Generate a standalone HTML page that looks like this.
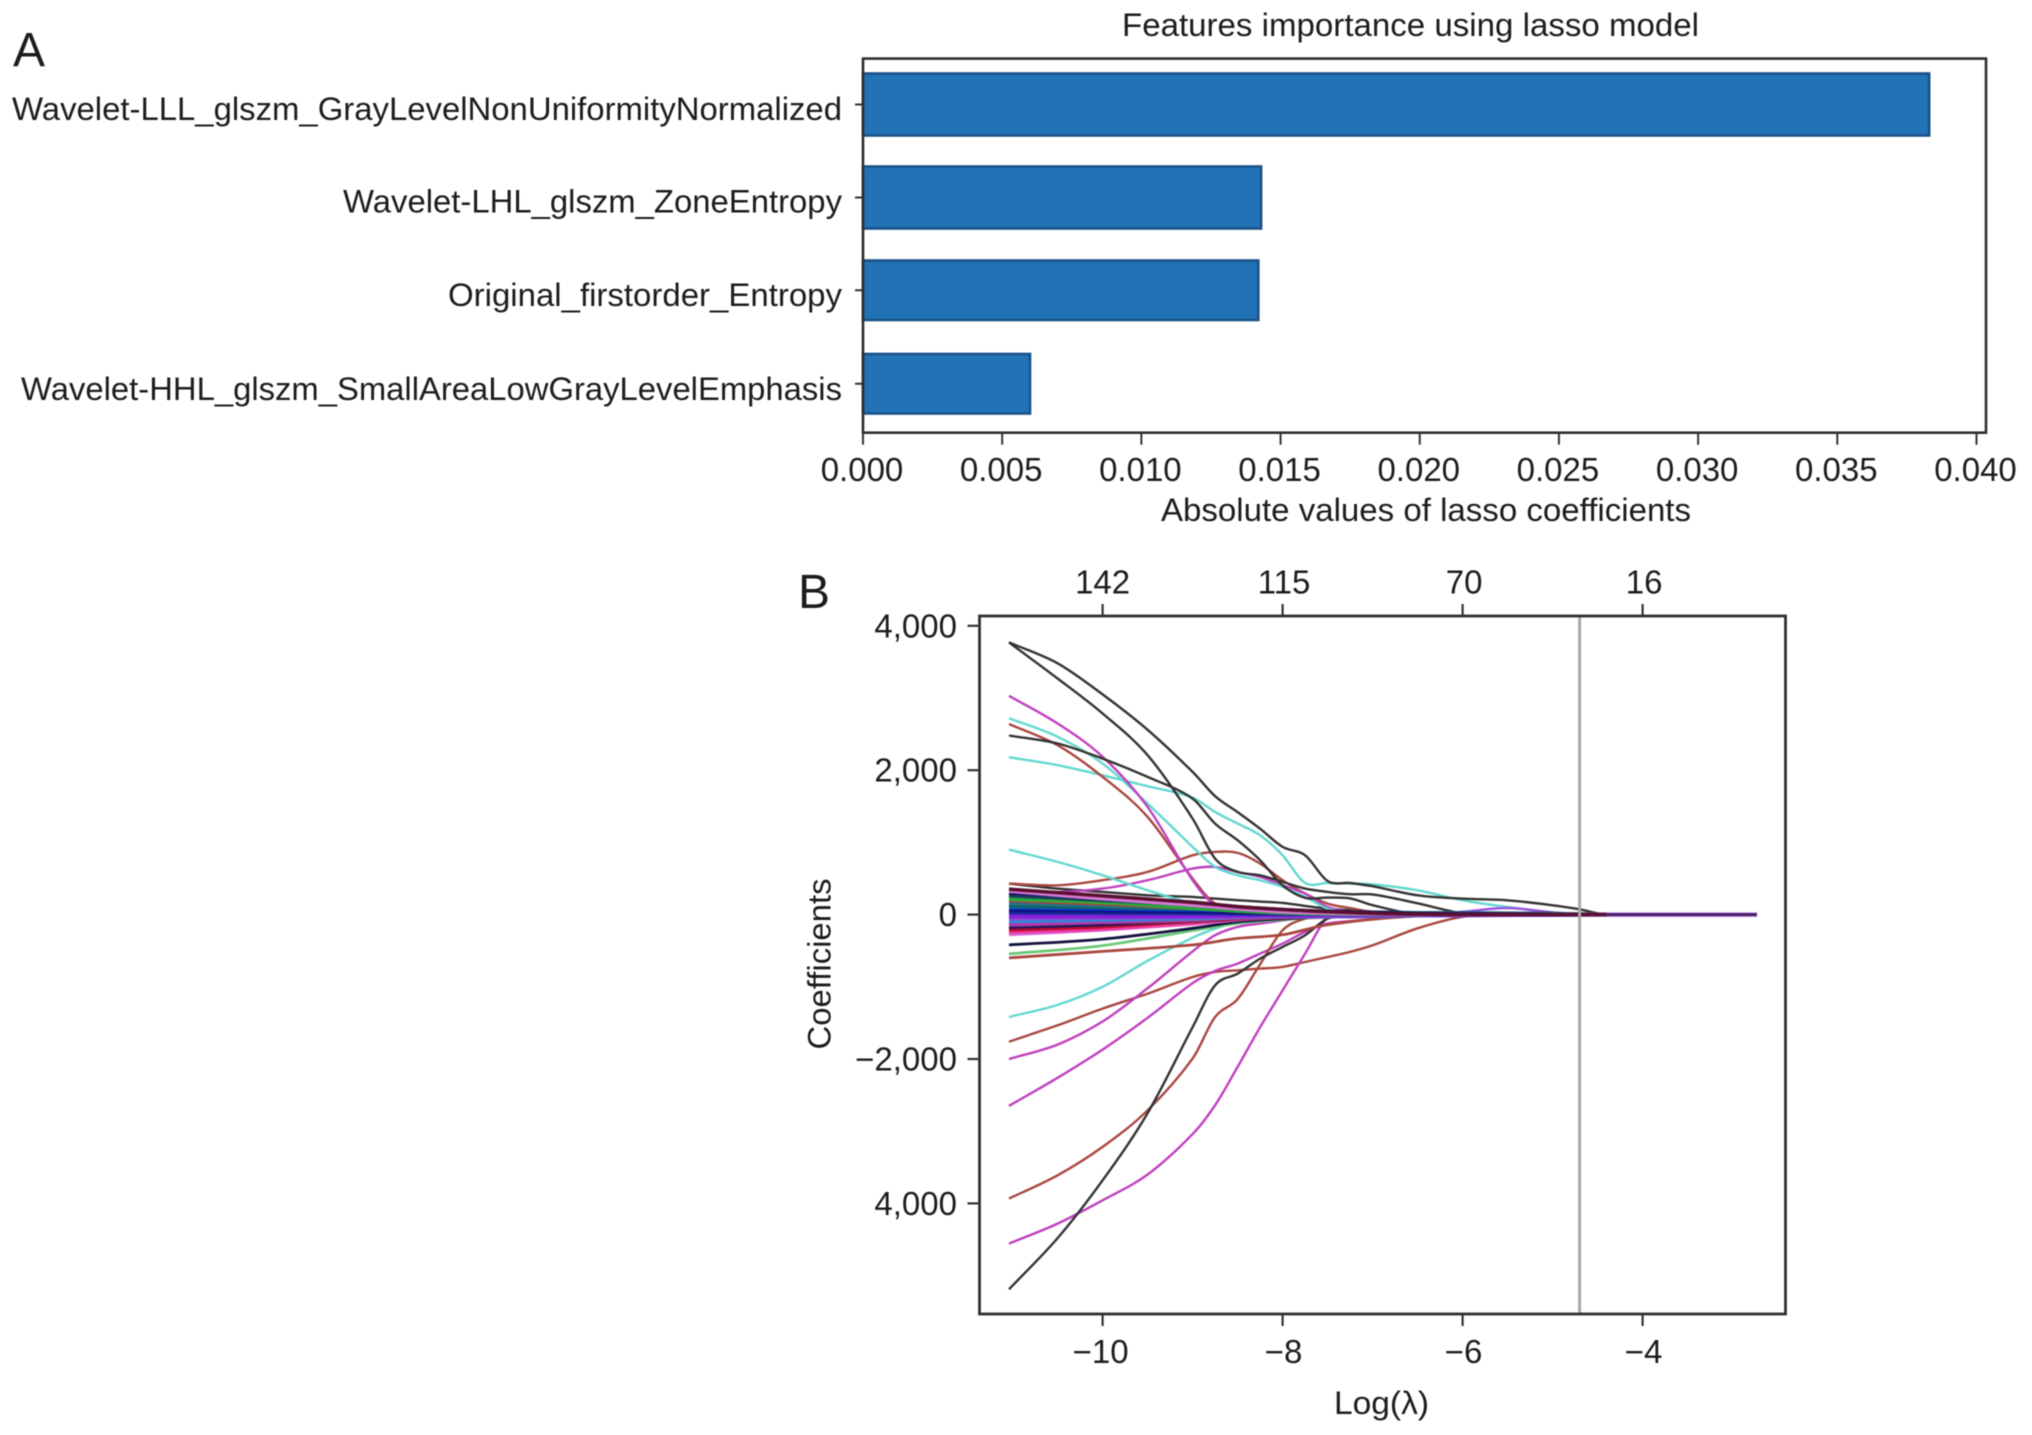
<!DOCTYPE html>
<html lang="en">
<head>
<meta charset="utf-8">
<title>Lasso feature importance and coefficient paths</title>
<style>
html,body{margin:0;padding:0;background:#fff;}
#figure{display:block;filter:blur(0.6px);font-family:"Liberation Sans",Arial,sans-serif;fill:#1c1c1c;}
</style>
</head>
<body>
<svg id="figure" xmlns="http://www.w3.org/2000/svg" width="2032" height="1435" viewBox="0 0 2032 1435">
  <text x="13" y="66" font-size="48">A</text>
  <text x="798" y="608" font-size="48">B</text>
  <g id="panelA"></g>
  <g id="panelB"></g>
</svg>
<script>
// Panel A data
const barCategories = [
  "Wavelet-LLL_glszm_GrayLevelNonUniformityNormalized",
  "Wavelet-LHL_glszm_ZoneEntropy",
  "Original_firstorder_Entropy",
  "Wavelet-HHL_glszm_SmallAreaLowGrayLevelEmphasis"
];
const barValues = [0.0383, 0.0143, 0.0142, 0.0060];
const barTickValues = [0, 0.005, 0.01, 0.015, 0.02, 0.025, 0.03, 0.035, 0.04];
const barTickLabels = ["0.000", "0.005", "0.010", "0.015", "0.020", "0.025", "0.030", "0.035", "0.040"];

// Panel B data
const pathTickX = [-10, -8, -6, -4];
const pathTickXLabels = ["\u221210", "\u22128", "\u22126", "\u22124"];
const pathTopLabels = ["142", "115", "70", "16"];
const pathTickY = [4000, 2000, 0, -2000, -4000];
const pathTickYLabels = ["4,000", "2,000", "0", "\u22122,000", "4,000"];
const selectedLogLambda = -4.7;

const longLambda = [-11.04,-10.5,-10,-9.5,-9,-8.75,-8.5,-8.25,-8,-7.75,-7.5,-7.25,-7,-6.5,-6,-5.5,-5,-4.7,-4.4,-2.73];
const longPathValues = [
  [430,360,314,268,245,222,199,180,162,120,83,60,37,10,0,0,0,0,0,0],
  [430,406,476,591,822,868,855,707,476,291,152,90,37,5,0,0,0,0,0,0],
  [330,314,360,476,637,660,591,522,406,291,106,40,14,0,0,0,0,0,0,0],
  [900,730,545,337,152,83,60,30,15,5,0,0,0,0,0,0,0,0,0,0],
  [2720,2462,2092,1538,938,660,545,475,383,245,83,30,10,0,0,0,0,0,0,0],
  [2180,2069,1930,1778,1621,1422,1261,1099,822,439,439,430,420,337,198,105,30,0,0,0],
  [2640,2346,1908,1353,499,152,106,60,30,10,0,0,0,0,0,0,0,0,0,0],
  [3030,2647,2185,1492,476,130,83,50,20,0,0,0,0,0,0,0,0,0,0,0],
  [3770,3480,3050,2560,1977,1640,1420,1190,938,822,466,438,393,267,221,198,129,73,0,0],
  [3770,3270,2785,2208,1330,776,591,545,453,360,314,282,280,156,20,0,0,0,0,0],
  [2480,2370,2160,1907,1607,1260,1030,753,406,232,235,225,130,0,0,0,0,0,0,0],
  [-1418,-1250,-1000,-640,-320,-194,-100,-50,-20,0,0,0,0,0,0,0,0,0,0,0],
  [-1760,-1533,-1302,-1095,-864,-794,-771,-748,-725,-656,-587,-517,-425,-190,-30,0,0,0,0,0],
  [-2000,-1800,-1480,-1020,-510,-286,-170,-125,-80,-40,0,0,0,0,0,0,0,0,0,0],
  [-2650,-2260,-1870,-1430,-950,-780,-679,-540,-402,-240,-125,-90,-60,-10,0,0,0,0,0,0],
  [-3934,-3611,-3218,-2711,-1995,-1418,-1170,-688,-217,-55,0,0,0,0,0,0,0,0,0,0],
  [-4557,-4280,-3957,-3600,-3040,-2640,-2110,-1560,-1050,-540,-40,0,0,0,0,0,0,0,0,0],
  [-5190,-4480,-3680,-2750,-1560,-979,-818,-610,-448,-286,-55,-20,0,0,0,0,0,0,0,0],
  [0,0,0,0,0,0,0,0,0,0,0,0,0,0,40,90,30,10,0,0],
  [0,0,0,0,0,0,0,0,0,0,0,0,0,0,0,0,0,0,0,0]
];
const longPathColors = ["#333333","#a9473f","#c040c0","#63d8cf","#63d8cf","#63d8cf","#a9473f","#c040c0","#333333","#333333","#333333","#63d8cf","#a9473f","#c040c0","#c040c0","#a9473f","#c040c0","#333333","#9a50e0","#3a2050"];

const fanLambda = [-11.04,-10,-9,-8.5,-8,-7.5,-6.5,-5,-4.4];
const fanPathValues = [
  [-600,-510,-420,-330,-280,-140,-20,0,0],
  [-545,-430,-220,-120,-70,-30,-5,0,0],
  [-420,-340,-190,-100,-60,-30,-5,0,0],
  [-275,-210,-130,-70,-40,-20,0,0,0],
  [-255,-205,-110,-60,-40,-25,-5,0,0],
  [-235,-195,-120,-60,-30,-15,-5,0,0],
  [-215,-170,-90,-50,-30,-20,-10,0,0],
  [-190,-150,-95,-60,-40,-30,-15,0,0],
  [-168,-130,-70,-40,-20,-10,-5,0,0],
  [-145,-110,-80,-50,-35,-30,-10,0,0],
  [-120,-90,-60,-40,-25,-30,-15,-5,0],
  [-95,-75,-55,-35,-25,-25,-15,-5,0],
  [-60,-50,-40,-30,-20,-20,-10,-3,0],
  [-30,-30,-25,-20,-15,-15,-10,-5,0],
  [0,-5,-10,-10,-10,-10,-5,-3,0],
  [25,20,15,10,5,5,0,0,0],
  [60,50,40,30,25,20,10,5,0],
  [90,75,65,55,45,35,15,10,0],
  [110,95,75,65,55,40,20,12,0],
  [130,100,85,70,55,45,25,15,0],
  [155,120,85,60,40,30,25,15,0],
  [175,140,85,55,35,25,20,10,0],
  [195,150,90,50,25,15,5,0,0],
  [215,170,90,50,25,10,0,0,0],
  [235,190,110,60,30,15,0,0,0],
  [265,200,140,90,60,35,10,0,0],
  [300,240,170,110,70,45,15,5,0],
  [325,220,130,80,40,20,0,0,0],
  [352,260,170,110,70,40,5,0,0]
];
const fanPathColors = ["#a9473f","#6cc878","#14143f","#e878e0","#d050d0","#f040a0","#d01040","#8a1030","#10106a","#a04090","#c030c0","#2090d8","#8a50c8","#8a20e0","#8a20e0","#1a2a9a","#10107a","#0030d0","#107080","#15586a","#1b7a7a","#2a6a8a","#a9473f","#30b030","#20a040","#1b3a5a","#101060","#d878d8","#5a1030"];

// Axis geometry and scales
const NS = "http://www.w3.org/2000/svg";
const barLeft = 863, barZeroToFortyPx = 1113.5;
const barFrame = {x0: 863, x1: 1986, y0: 58.6, y1: 432.7};
const barBands = [[73.5,135.5],[166.5,228.5],[260.5,320],[354,413.5]];
const xBar = v => barLeft + (v / 0.04) * barZeroToFortyPx;
const pathFrame = {x0: 979.5, x1: 1785.5, y0: 616, y1: 1314};
const xPath = l => 1102.6 + (l + 10) * 90;
const yPath = v => 914.6 - v * 0.0722;

function make(parent, tag, attrs, text) {
  const el = document.createElementNS(NS, tag);
  for (const k in attrs) el.setAttribute(k, attrs[k]);
  if (text !== undefined) el.textContent = text;
  parent.appendChild(el);
  return el;
}
function smoothPath(xs, ys) {
  let d = "M" + xs[0].toFixed(1) + " " + ys[0].toFixed(1);
  for (let i = 0; i < xs.length - 1; i++) {
    const p0 = Math.max(i - 1, 0), p3 = Math.min(i + 2, xs.length - 1);
    const dx = xs[i + 1] - xs[i];
    const m1 = (ys[i + 1] - ys[p0]) / ((xs[i + 1] - xs[p0]) || 1);
    const m2 = (ys[p3] - ys[i]) / ((xs[p3] - xs[i]) || 1);
    const c1y = ys[i] + m1 * dx / 3, c2y = ys[i + 1] - m2 * dx / 3;
    d += " C" + (xs[i] + dx / 3).toFixed(1) + " " + c1y.toFixed(1) + " " + (xs[i + 1] - dx / 3).toFixed(1) + " " + c2y.toFixed(1) + " " + xs[i + 1].toFixed(1) + " " + ys[i + 1].toFixed(1);
  }
  return d;
}

// Panel A
const panelA = document.getElementById("panelA");
const titleA = make(panelA, "text", {x: 1122, y: 36, "font-size": 32, textLength: 577, lengthAdjust: "spacingAndGlyphs"}, "Features importance using lasso model");


const labelWidths = [830, 499, 394, 821];
const labelBaselines = [120, 212.7, 306, 400];
barValues.forEach((v, i) => {
  const band = barBands[i];
  const bar = make(panelA, "rect", {x: barLeft, y: band[0], width: xBar(v) - barLeft, height: band[1] - band[0], fill: "#2272b6", stroke: "#1a5288", "stroke-width": 2.6});
  
  
  const cy = (band[0] + band[1]) / 2;
  const tick = make(panelA, "line", {x1: barFrame.x0 - 8, x2: barFrame.x0, y1: cy, y2: cy, stroke: "#333", "stroke-width": 2});
  
  
  const label = make(panelA, "text", {x: 842 - labelWidths[i], y: labelBaselines[i], "font-size": 32, textLength: labelWidths[i], lengthAdjust: "spacingAndGlyphs"}, barCategories[i]);
  
  
});
const frameA = make(panelA, "rect", {x: barFrame.x0, y: barFrame.y0, width: barFrame.x1 - barFrame.x0, height: barFrame.y1 - barFrame.y0, fill: "none", stroke: "#2e2e2e", "stroke-width": 2.6});


barTickValues.forEach((v, i) => {
  const tick = make(panelA, "line", {x1: xBar(v), x2: xBar(v), y1: barFrame.y1, y2: barFrame.y1 + 12, stroke: "#333", "stroke-width": 2});
  
  
  const label = make(panelA, "text", {x: xBar(v) - 1, y: 481, "font-size": 33, "text-anchor": "middle"}, barTickLabels[i]);
  
  
});
const xTitleA = make(panelA, "text", {x: 1161, y: 521, "font-size": 32, textLength: 530, lengthAdjust: "spacingAndGlyphs"}, "Absolute values of lasso coefficients");



// Panel B
const panelB = document.getElementById("panelB");
longPathValues.forEach((vals, i) => {
  const last = i === longPathValues.length - 1;
  if (last) {
    const halo = make(panelB, "path", {d: smoothPath(longLambda.map(xPath), vals.map(yPath)), fill: "none", stroke: "#a060d8", "stroke-width": 4.5});
    
    
  }
  const path = make(panelB, "path", {d: smoothPath(longLambda.map(xPath), vals.map(yPath)), fill: "none", stroke: longPathColors[i], "stroke-width": last ? 2.2 : 2.4});
  
  
});
fanPathValues.forEach((vals, i) => {
  const path = make(panelB, "path", {d: smoothPath(fanLambda.map(xPath), vals.map(yPath)), fill: "none", stroke: fanPathColors[i], "stroke-width": i < 3 ? 2.8 : 3.6});
  
  
});
const vline = make(panelB, "line", {x1: xPath(selectedLogLambda), x2: xPath(selectedLogLambda), y1: pathFrame.y0, y2: pathFrame.y1, stroke: "#a8a8a8", "stroke-width": 3});


const frameB = make(panelB, "rect", {x: pathFrame.x0, y: pathFrame.y0, width: pathFrame.x1 - pathFrame.x0, height: pathFrame.y1 - pathFrame.y0, fill: "none", stroke: "#2e2e2e", "stroke-width": 2.8});


pathTickX.forEach((v, i) => {
  const bottomTick = make(panelB, "line", {x1: xPath(v), x2: xPath(v), y1: pathFrame.y1, y2: pathFrame.y1 + 12, stroke: "#333", "stroke-width": 2.2});
  
  
  const topTick = make(panelB, "line", {x1: xPath(v), x2: xPath(v), y1: pathFrame.y0 - 12, y2: pathFrame.y0, stroke: "#333", "stroke-width": 2.2});
  
  
  const bottomLabel = make(panelB, "text", {x: xPath(v) + (i === 0 ? -2 : 1), y: 1363, "font-size": 33, "text-anchor": "middle"}, pathTickXLabels[i]);
  
  
  const topLabel = make(panelB, "text", {x: xPath(v) + (i === 0 ? 0 : 1.5), y: 593.5, "font-size": 33, "text-anchor": "middle"}, pathTopLabels[i]);
  
  
});
pathTickY.forEach((v, i) => {
  const tick = make(panelB, "line", {x1: pathFrame.x0 - 12, x2: pathFrame.x0, y1: yPath(v), y2: yPath(v), stroke: "#333", "stroke-width": 2.2});
  
  
  const label = make(panelB, "text", {x: 957, y: yPath(v) + 11.5, "font-size": 33, "text-anchor": "end"}, pathTickYLabels[i]);
  
  
});
const xTitleB = make(panelB, "text", {x: 1334, y: 1414, "font-size": 32, textLength: 95, lengthAdjust: "spacingAndGlyphs"}, "Log(\u03bb)");


const yTitleB = make(panelB, "text", {transform: "translate(830.5 964) rotate(-90)", "font-size": 32, "text-anchor": "middle", textLength: 171, lengthAdjust: "spacingAndGlyphs"}, "Coefficients");


</script>
</body>
</html>
